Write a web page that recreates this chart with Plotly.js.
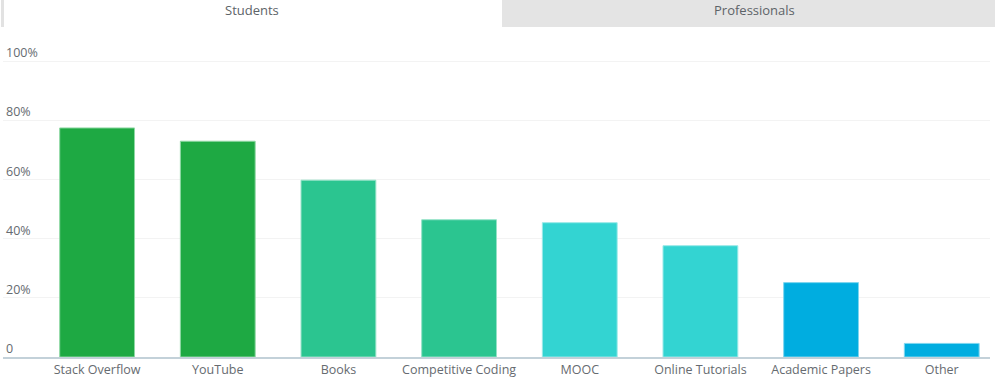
<!DOCTYPE html>
<html>
<head>
<meta charset="utf-8">
<script src="https://cdn.plot.ly/plotly-3.0.1.min.js"></script>
<style>
html,body{margin:0;padding:0;background:#fff;}
#chart{width:995px;height:379px;}
</style>
</head>
<body>
<div id="chart"></div>
<script>
var categories = ["Stack Overflow","YouTube","Books","Competitive Coding","MOOC","Online Tutorials","Academic Papers","Other"];
var values = [77.6, 73.1, 59.9, 46.5, 45.5, 37.7, 25.2, 4.6];
var barColors = ["#1EA943","#1EA943","#2BC590","#2BC590","#33D4D2","#33D4D2","#00ADE0","#00ADE0"];
var barEdges = ["#8FD8A4","#8FD8A4","#95E2C7","#95E2C7","#99E9E8","#99E9E8","#7FD6EF","#7FD6EF"];
var tickVals = [0,20,40,60,80,100];
var tickText = ["0","20%","40%","60%","80%","100%"];
var tabs = ["Students","Professionals"];

var trace = {
  type: "bar",
  x: categories,
  y: values,
  marker: {color: barColors, line: {color: barEdges, width: 1}},
  width: 0.62,
  hoverinfo: "x+y"
};

var layout = {
  width: 995, height: 379,
  margin: {l: 3, r: 5, t: 32, b: 22},
  paper_bgcolor: "#fff", plot_bgcolor: "#fff",
  font: {family: "Open Sans, sans-serif", size: 12.5, color: "#666b70"},
  showlegend: false,
  xaxis: {
    type: "category",
    range: [-0.78, 7.40],
    showgrid: false,
    showline: true, linecolor: "#C3D1D9", linewidth: 2,
    ticks: "", tickfont: {size: 12.5, color: "#666b70"},
    fixedrange: true
  },
  yaxis: {
    range: [0, 110.1],
    tickvals: tickVals, ticktext: tickText,
    ticklabelposition: "inside top",
    showgrid: true, gridcolor: "#F3F3F3", gridwidth: 1,
    zeroline: false, showline: false, ticks: "",
    tickfont: {size: 12.5, color: "#666b70"},
    fixedrange: true
  },
  shapes: [
    {type: "rect", xref: "paper", yref: "paper", x0: -0.003, x1: 0.5056, y0: 1.0154, y1: 1.1,
     fillcolor: "#ffffff", line: {width: 0}},
    {type: "line", xref: "paper", yref: "paper", x0: -0.0005, x1: -0.0005, y0: 1.0154, y1: 1.1,
     line: {color: "#E2E2E2", width: 3}},
    {type: "rect", xref: "paper", yref: "paper", x0: 0.5056, x1: 1.01, y0: 1.0154, y1: 1.1,
     fillcolor: "#E4E4E4", line: {width: 0}}
  ],
  annotations: [
    {text: tabs[0], xref: "paper", yref: "paper", x: 0.2523, y: 1.0677, showarrow: false,
     font: {size: 13, color: "#5d6368"}, xanchor: "center", yanchor: "middle"},
    {text: tabs[1], xref: "paper", yref: "paper", x: 0.761, y: 1.0677, showarrow: false,
     font: {size: 13, color: "#5d6368"}, xanchor: "center", yanchor: "middle"}
  ]
};

Plotly.newPlot("chart", [trace], layout, {displayModeBar: false, staticPlot: true});
</script>
</body>
</html>
